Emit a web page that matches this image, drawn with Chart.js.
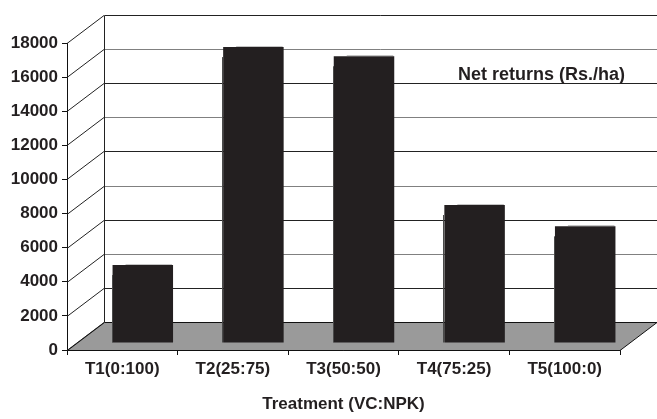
<!DOCTYPE html>
<html>
<head>
<meta charset="utf-8">
<script src="https://cdn.jsdelivr.net/npm/chart.js@4/dist/chart.umd.min.js"></script>
<style>
  html, body { margin: 0; padding: 0; background: #ffffff; }
  canvas { display: block; }
</style>
</head>
<body>
<canvas id="chart" width="657" height="419"></canvas>
<script>
// Treatments and net returns
const categories = ['T1(0:100)', 'T2(25:75)', 'T3(50:50)', 'T4(75:25)', 'T5(100:0)'];
const netReturns = [4570, 17350, 16810, 8090, 6840];
const yTickValues = [0, 2000, 4000, 6000, 8000, 10000, 12000, 14000, 16000, 18000];
const seriesLabel = 'Net returns (Rs./ha)';
const axisTitle = 'Treatment (VC:NPK)';

// 3-D look: depth of the back wall and where the columns stand on the floor
const DEPTH_X = 37, DEPTH_Y = -28;
const BAR_SHIFT_X = 20.5, BAR_SHIFT_Y = -7;
const INK = '#231f20';
const FAMILY = '"Liberation Sans", Arial, sans-serif';
const FONT = { family: FAMILY, size: 17, weight: 'bold' };
const LABEL_FONT = `bold 18px ${FAMILY}`;

const px = v => Math.round(v) + 0.5;

const wall3d = {
  id: 'wall3d',
  beforeDatasetsDraw(chart) {
    const { ctx, chartArea: a, scales: { y } } = chart;
    ctx.save();
    ctx.lineWidth = 1;
    // back wall gridlines and the diagonals joining them to the front axis
    yTickValues.forEach((v, i) => {
      const fy = px(y.getPixelForValue(v));
      const by = fy + DEPTH_Y;
      if (v > 0) {
        ctx.strokeStyle = (i % 2 === 1) ? '#222' : '#808080';
        ctx.beginPath();
        ctx.moveTo(px(a.left + DEPTH_X), by);
        ctx.lineTo(a.right + DEPTH_X, by);
        ctx.stroke();
      }
      ctx.strokeStyle = '#222';
      ctx.beginPath();
      ctx.moveTo(a.left, fy);
      ctx.lineTo(a.left + DEPTH_X, by);
      ctx.stroke();
    });
    // back wall left edge
    const topB = px(y.getPixelForValue(yTickValues[yTickValues.length - 1])) + DEPTH_Y;
    const zeroF = px(y.getPixelForValue(0));
    ctx.strokeStyle = '#222';
    ctx.beginPath();
    ctx.moveTo(px(a.left + DEPTH_X), topB);
    ctx.lineTo(px(a.left + DEPTH_X), zeroF + DEPTH_Y);
    ctx.stroke();
    // floor
    ctx.beginPath();
    ctx.moveTo(px(a.left), zeroF);
    ctx.lineTo(a.right, zeroF);
    ctx.lineTo(a.right + DEPTH_X, zeroF + DEPTH_Y);
    ctx.lineTo(px(a.left + DEPTH_X), zeroF + DEPTH_Y);
    ctx.closePath();
    ctx.fillStyle = '#9a9a9a';
    ctx.fill();
    ctx.strokeStyle = '#111';
    ctx.stroke();
    ctx.restore();
  },
  beforeDatasetDraw(chart) {
    chart.ctx.save();
    chart.ctx.translate(BAR_SHIFT_X, BAR_SHIFT_Y);
  },
  afterDatasetDraw(chart) {
    chart.ctx.restore();
  },
  afterDatasetsDraw(chart) {
    const { ctx } = chart;
    ctx.save();
    ctx.lineWidth = 1;
    chart.getDatasetMeta(0).data.forEach(bar => {
      const left = bar.x - bar.width / 2 + BAR_SHIFT_X;
      const right = bar.x + bar.width / 2 + BAR_SHIFT_X;
      const top = bar.y + BAR_SHIFT_Y;
      const bottom = bar.base + BAR_SHIFT_Y;
      // light edge along the top face
      ctx.strokeStyle = '#c4c4c4';
      ctx.beginPath();
      ctx.moveTo(left + 13, Math.round(top) - 0.5);
      ctx.lineTo(right - 1, Math.round(top) - 0.5);
      ctx.stroke();
      // front face edge peeking out on the left
      ctx.strokeStyle = '#4a4a4a';
      ctx.beginPath();
      ctx.moveTo(Math.round(left) - 0.5, top + 10);
      ctx.lineTo(Math.round(left) - 0.5, bottom);
      ctx.stroke();
    });
    // series label
    ctx.fillStyle = INK;
    ctx.font = LABEL_FONT;
    ctx.textAlign = 'left';
    ctx.textBaseline = 'middle';
    ctx.fillText(chart.data.datasets[0].label, 458, 75);
    ctx.restore();
  }
};

new Chart(document.getElementById('chart'), {
  type: 'bar',
  data: {
    labels: categories,
    datasets: [{
      label: seriesLabel,
      data: netReturns,
      backgroundColor: INK,
      borderWidth: 0,
      categoryPercentage: 1,
      barPercentage: 0.547,
      clip: false
    }]
  },
  options: {
    responsive: false,
    devicePixelRatio: 1,
    animation: false,
    layout: { padding: { left: 0, right: 37, top: 43, bottom: 0 } },
    plugins: {
      legend: { display: false },
      tooltip: { enabled: false }
    },
    scales: {
      x: {
        grid: { display: true, drawOnChartArea: false, drawTicks: true, tickLength: 5, color: '#111', offset: true },
        border: { display: true, color: '#111' },
        ticks: { color: INK, font: FONT, padding: 4, maxRotation: 0, autoSkip: false },
        title: { display: true, text: axisTitle, color: INK, font: FONT, padding: { top: 4, bottom: 4 } },
        afterFit: s => { s.height = 69; }
      },
      y: {
        min: 0,
        max: 18000,
        afterBuildTicks: s => { s.ticks = yTickValues.map(v => ({ value: v })); },
        grid: { display: true, drawOnChartArea: false, drawTicks: true, tickLength: 5, color: '#111' },
        border: { display: true, color: '#111' },
        ticks: { color: INK, font: FONT, padding: 4, callback: v => String(v) },
        afterFit: s => { s.width = 67; }
      }
    }
  },
  plugins: [wall3d]
});
</script>
</body>
</html>
